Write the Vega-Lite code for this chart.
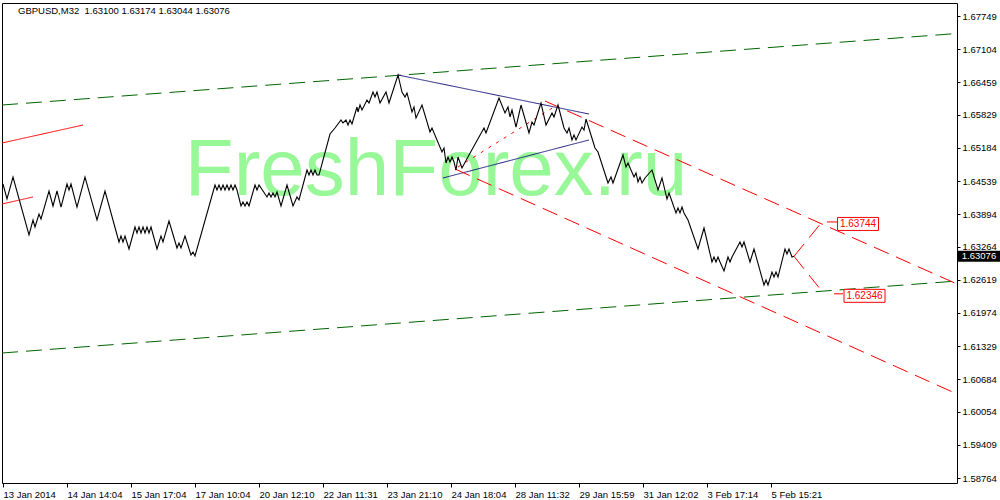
{
  "$schema": "https://vega.github.io/schema/vega-lite/v6.json",
  "autosize": "none",
  "width": 955,
  "height": 480,
  "padding": {"left": 2, "top": 3, "right": 43, "bottom": 17},
  "background": "white",
  "title": {"text": "GBPUSD,M32\u00a0 1.63100 1.63174 1.63044 1.63076", "anchor": "start", "frame": "group", "offset": -20, "dx": 16, "fontSize": 9.5, "font": "Liberation Sans", "fontWeight": "normal", "color": "black", "baseline": "alphabetic"},
  "config": {
    "view": {"stroke": "black", "strokeWidth": 1},
    "axis": {"grid": false, "domain": false, "labelFont": "Liberation Sans", "labelFontSize": 9.5, "labelColor": "black", "tickColor": "black", "title": null, "labelOverlap": false}
  },
  "datasets": {
    "watermark": [{"label": "FreshForex.ru", "bar": 436, "price": 1.64268}],
    "price": [
      {"bar":3,"price":1.64482},{"bar":7,"price":1.64190},{"bar":13,"price":1.64618},{"bar":29,"price":1.63490},{"bar":33,"price":1.63782},{"bar":35,"price":1.63646},{"bar":39,"price":1.63898},{"bar":41,"price":1.63801},{"bar":49,"price":1.64346},{"bar":53,"price":1.64054},{"bar":57,"price":1.64346},{"bar":61,"price":1.64034},{"bar":67,"price":1.64482},{"bar":69,"price":1.64365},{"bar":71,"price":1.64482},{"bar":77,"price":1.64034},{"bar":85,"price":1.64618},{"bar":97,"price":1.63782},{"bar":105,"price":1.64346},{"bar":119,"price":1.63354},{"bar":121,"price":1.63470},{"bar":123,"price":1.63354},{"bar":125,"price":1.63470},{"bar":129,"price":1.63218},{"bar":135,"price":1.63646},{"bar":137,"price":1.63529},{"bar":139,"price":1.63646},{"bar":141,"price":1.63529},{"bar":143,"price":1.63646},{"bar":145,"price":1.63529},{"bar":147,"price":1.63646},{"bar":149,"price":1.63529},{"bar":151,"price":1.63646},{"bar":157,"price":1.63218},{"bar":161,"price":1.63470},{"bar":163,"price":1.63354},{"bar":169,"price":1.63762},{"bar":177,"price":1.63237},{"bar":179,"price":1.63334},{"bar":181,"price":1.63237},{"bar":185,"price":1.63470},{"bar":191,"price":1.63101},{"bar":193,"price":1.63159},{"bar":195,"price":1.63082},
      {"bar":215,"price":1.64462},{"bar":217,"price":1.64365},{"bar":219,"price":1.64462},{"bar":221,"price":1.64365},{"bar":223,"price":1.64462},{"bar":225,"price":1.64365},{"bar":227,"price":1.64462},{"bar":229,"price":1.64365},{"bar":231,"price":1.64462},{"bar":233,"price":1.64365},{"bar":235,"price":1.64462},{"bar":237,"price":1.64365},{"bar":241,"price":1.64054},{"bar":243,"price":1.64132},{"bar":245,"price":1.64054},{"bar":247,"price":1.64132},{"bar":249,"price":1.64054},{"bar":255,"price":1.64462},{"bar":257,"price":1.64365},{"bar":259,"price":1.64462},{"bar":267,"price":1.64229},{"bar":269,"price":1.64307},{"bar":271,"price":1.64229},{"bar":273,"price":1.64307},{"bar":275,"price":1.64229},{"bar":277,"price":1.64326},{"bar":281,"price":1.64054},{"bar":287,"price":1.64462},{"bar":293,"price":1.64054},{"bar":297,"price":1.64229},{"bar":299,"price":1.64171},{"bar":307,"price":1.64754},{"bar":309,"price":1.64657},{"bar":311,"price":1.64754},{"bar":313,"price":1.64657},{"bar":315,"price":1.64754},{"bar":317,"price":1.64657},{"bar":319,"price":1.64657},
      {"bar":330,"price":1.65454},{"bar":335,"price":1.65571},{"bar":341,"price":1.65726},{"bar":343,"price":1.65668},{"bar":346,"price":1.65726},{"bar":348,"price":1.65629},{"bar":350,"price":1.65726},{"bar":352,"price":1.65649},{"bar":357,"price":1.65979},{"bar":358,"price":1.65882},{"bar":360,"price":1.66018},{"bar":362,"price":1.65921},{"bar":367,"price":1.66115},{"bar":369,"price":1.66057},{"bar":373,"price":1.66271},{"bar":375,"price":1.66174},{"bar":377,"price":1.66271},{"bar":380,"price":1.66057},{"bar":386,"price":1.66271},{"bar":389,"price":1.66057},{"bar":398,"price":1.66602},{"bar":402,"price":1.66271},{"bar":405,"price":1.66174},{"bar":407,"price":1.66252},{"bar":412,"price":1.65882},{"bar":414,"price":1.65979},{"bar":416,"price":1.65765},{"bar":422,"price":1.66018},{"bar":430,"price":1.65493},{"bar":432,"price":1.65571},{"bar":442,"price":1.65104},{"bar":444,"price":1.65182},{"bar":446,"price":1.64890},{"bar":448,"price":1.65007},{"bar":450,"price":1.64910},{"bar":452,"price":1.65007},{"bar":454,"price":1.64910},{"bar":456,"price":1.64754},{"bar":458,"price":1.65007},{"bar":462,"price":1.64793},{"bar":469,"price":1.65046},{"bar":484,"price":1.65571},{"bar":486,"price":1.65474},
      {"bar":499,"price":1.66154},{"bar":505,"price":1.65863},{"bar":508,"price":1.65979},{"bar":510,"price":1.65785},{"bar":512,"price":1.65921},{"bar":516,"price":1.65590},{"bar":521,"price":1.66018},{"bar":529,"price":1.65474},{"bar":532,"price":1.65688},{"bar":534,"price":1.65629},{"bar":541,"price":1.66057},{"bar":546,"price":1.65629},{"bar":552,"price":1.65863},{"bar":554,"price":1.65785},{"bar":558,"price":1.66018},{"bar":564,"price":1.65571},{"bar":567,"price":1.65474},{"bar":569,"price":1.65571},{"bar":572,"price":1.65338},{"bar":574,"price":1.65435},{"bar":576,"price":1.65338},{"bar":582,"price":1.65590},{"bar":584,"price":1.65532},{"bar":586,"price":1.65746},{"bar":595,"price":1.65182},{"bar":598,"price":1.65104},{"bar":608,"price":1.64501},{"bar":611,"price":1.64618},{"bar":613,"price":1.64501},{"bar":623,"price":1.65046},{"bar":626,"price":1.64812},{"bar":628,"price":1.64890},{"bar":634,"price":1.64618},{"bar":636,"price":1.64696},{"bar":638,"price":1.64521},{"bar":640,"price":1.64618},{"bar":642,"price":1.64501},{"bar":645,"price":1.64599},
      {"bar":652,"price":1.64754},{"bar":658,"price":1.64365},{"bar":662,"price":1.64599},{"bar":667,"price":1.64190},{"bar":669,"price":1.64307},{"bar":676,"price":1.63918},{"bar":678,"price":1.64015},{"bar":680,"price":1.63918},{"bar":682,"price":1.64034},{"bar":684,"price":1.63918},{"bar":688,"price":1.63782},{"bar":698,"price":1.63218},{"bar":704,"price":1.63626},{"bar":712,"price":1.62965},{"bar":714,"price":1.63062},{"bar":716,"price":1.62965},{"bar":718,"price":1.63062},{"bar":720,"price":1.62965},{"bar":724,"price":1.62790},{"bar":728,"price":1.63062},{"bar":730,"price":1.62965},{"bar":732,"price":1.63062},{"bar":740,"price":1.63354},{"bar":742,"price":1.63257},{"bar":744,"price":1.63354},{"bar":750,"price":1.62965},{"bar":754,"price":1.63218},{"bar":764,"price":1.62518},{"bar":766,"price":1.62615},{"bar":768,"price":1.62518},{"bar":772,"price":1.62770},{"bar":774,"price":1.62673},{"bar":776,"price":1.62770},{"bar":778,"price":1.62673},{"bar":785,"price":1.63218},{"bar":787,"price":1.63120},{"bar":789,"price":1.63218},{"bar":792,"price":1.63062},{"bar":794,"price":1.63076}
    ],
    "segments": [
      {"line":"g1","kind":"green_dash","bar":2,"price":1.66018},{"line":"g1","kind":"green_dash","bar":957,"price":1.67409},
      {"line":"g2","kind":"green_dash","bar":2,"price":1.61195},{"line":"g2","kind":"green_dash","bar":957,"price":1.62595},
      {"line":"r1","kind":"red_solid","bar":2,"price":1.65279},{"line":"r1","kind":"red_solid","bar":83,"price":1.65629},
      {"line":"r2","kind":"red_solid","bar":2,"price":1.64093},{"line":"r2","kind":"red_solid","bar":33,"price":1.64229},
      {"line":"n1","kind":"navy_solid","bar":398,"price":1.66602},{"line":"n1","kind":"navy_solid","bar":589,"price":1.65843},
      {"line":"n2","kind":"navy_solid","bar":443,"price":1.64599},{"line":"n2","kind":"navy_solid","bar":589,"price":1.65338},
      {"line":"d1","kind":"red_dash","bar":545,"price":1.66096},{"line":"d1","kind":"red_dash","bar":957,"price":1.62537},
      {"line":"d2","kind":"red_dash","bar":455,"price":1.64774},{"line":"d2","kind":"red_dash","bar":957,"price":1.60398},
      {"line":"o1","kind":"red_dot","bar":458,"price":1.64812},{"line":"o1","kind":"red_dot","bar":557,"price":1.66018},
      {"line":"p1","kind":"red_dash","bar":794,"price":1.63076},{"line":"p1","kind":"red_dash","bar":822,"price":1.63744},
      {"line":"p2","kind":"red_dash","bar":794,"price":1.63076},{"line":"p2","kind":"red_dash","bar":824,"price":1.62346},
      {"line":"c1","kind":"red_solid","bar":827,"price":1.63744},{"line":"c1","kind":"red_solid","bar":837,"price":1.63744},
      {"line":"c2","kind":"red_solid","bar":834,"price":1.62346},{"line":"c2","kind":"red_solid","bar":843,"price":1.62346}
    ],
    "labels": [
      {"bar":858,"price":1.63744,"text":"1.63744"},
      {"bar":864.5,"price":1.62346,"text":"1.62346"}
    ],
    "current": [
      {"bar":979,"price":1.63076,"text":"1.63076"}
    ]
  },
  "layer": [
    {
      "data": {"name": "watermark"},
      "mark": {"type": "text", "font": "Liberation Sans", "fontSize": 80, "fill": "#98f898", "align": "center", "baseline": "alphabetic"},
      "encoding": {
        "x": {"field": "bar", "type": "quantitative", "scale": {"domain": [2, 957], "nice": false, "zero": false}},
        "y": {"field": "price", "type": "quantitative", "scale": {"domain": [1.58667, 1.68002], "nice": false, "zero": false}},
        "text": {"field": "label"}
      }
    },
    {
      "mark": {"type": "rule", "color": "#c0c0c0", "strokeWidth": 1},
      "encoding": {
        "y": {"datum": 1.63076, "type": "quantitative", "scale": {"domain": [1.58667, 1.68002], "nice": false, "zero": false}}
      }
    },
    {
      "data": {"name": "segments"},
      "mark": {"type": "line", "strokeWidth": 1, "clip": true},
      "encoding": {
        "x": {"field": "bar", "type": "quantitative", "scale": {"domain": [2, 957], "nice": false, "zero": false},
              "axis": {"orient": "bottom", "values": [3,67,131,195,259,323,387,451,515,579,643,707,771], "tickCount": 30, "labelAlign": "left", "labelPadding": 2, "tickSize": 4,
                       "labelExpr": "['13 Jan 2014','14 Jan 14:04','15 Jan 17:04','17 Jan 10:04','20 Jan 12:10','22 Jan 11:31','23 Jan 21:10','24 Jan 18:04','28 Jan 11:32','29 Jan 15:59','31 Jan 12:02','3 Feb 17:14','5 Feb 15:21'][round((datum.value - 3) / 64)]"}},
        "y": {"field": "price", "type": "quantitative", "scale": {"domain": [1.58667, 1.68002], "nice": false, "zero": false},
              "axis": {"orient": "right", "values": [1.67749,1.67104,1.66459,1.65829,1.65184,1.64539,1.63894,1.63264,1.62619,1.61974,1.61329,1.60684,1.60054,1.59409,1.58764], "tickCount": 30, "format": ".5f", "tickSize": 3, "labelPadding": 2, "labelAlign": "left", "labelOverlap": false}},
        "detail": {"field": "line"},
        "color": {"field": "kind", "type": "nominal", "legend": null, "scale": {"domain": ["green_dash","red_solid","navy_solid","red_dash","red_dot"], "range": ["#006400","#ff0000","#1a1a80","#ff0000","#ff0000"]}},
        "strokeDash": {"field": "kind", "type": "nominal", "legend": null, "scale": {"domain": ["green_dash","red_solid","navy_solid","red_dash","red_dot"], "range": [[16,8],[1,0],[1,0],[16,8],[3,6]]}}
      }
    },
    {
      "data": {"name": "price"},
      "mark": {"type": "line", "color": "black", "strokeWidth": 1.1},
      "encoding": {
        "x": {"field": "bar", "type": "quantitative", "scale": {"domain": [2, 957], "nice": false, "zero": false}},
        "y": {"field": "price", "type": "quantitative", "scale": {"domain": [1.58667, 1.68002], "nice": false, "zero": false}}
      }
    },
    {
      "data": {"name": "labels"},
      "mark": {"type": "point", "shape": "M-1,-0.317H1V0.317H-1Z", "size": 1681, "filled": true, "fill": "white", "stroke": "#ff0000", "strokeWidth": 1, "opacity": 1, "yOffset": 2},
      "encoding": {
        "x": {"field": "bar", "type": "quantitative", "scale": {"domain": [2, 957], "nice": false, "zero": false}},
        "y": {"field": "price", "type": "quantitative", "scale": {"domain": [1.58667, 1.68002], "nice": false, "zero": false}}
      }
    },
    {
      "data": {"name": "labels"},
      "mark": {"type": "text", "font": "Liberation Sans", "fontSize": 10, "color": "#ff0000", "align": "center", "baseline": "middle", "yOffset": 2},
      "encoding": {
        "x": {"field": "bar", "type": "quantitative", "scale": {"domain": [2, 957], "nice": false, "zero": false}},
        "y": {"field": "price", "type": "quantitative", "scale": {"domain": [1.58667, 1.68002], "nice": false, "zero": false}},
        "text": {"field": "text"}
      }
    },
    {
      "data": {"name": "current"},
      "mark": {"type": "point", "shape": "M-1,-0.262H1V0.262H-1Z", "size": 1764, "filled": true, "fill": "black", "opacity": 1},
      "encoding": {
        "x": {"field": "bar", "type": "quantitative", "scale": {"domain": [2, 957], "nice": false, "zero": false}},
        "y": {"field": "price", "type": "quantitative", "scale": {"domain": [1.58667, 1.68002], "nice": false, "zero": false}}
      }
    },
    {
      "data": {"name": "current"},
      "mark": {"type": "text", "font": "Liberation Sans", "fontSize": 9.5, "color": "white", "align": "center", "baseline": "middle"},
      "encoding": {
        "x": {"field": "bar", "type": "quantitative", "scale": {"domain": [2, 957], "nice": false, "zero": false}},
        "y": {"field": "price", "type": "quantitative", "scale": {"domain": [1.58667, 1.68002], "nice": false, "zero": false}},
        "text": {"field": "text"}
      }
    },
    {
      "mark": {"type": "rule", "color": "black", "strokeWidth": 3},
      "encoding": {
        "x": {"datum": 957.5, "type": "quantitative", "scale": {"domain": [2, 957], "nice": false, "zero": false}},
        "y": {"datum": 1.67833, "type": "quantitative", "scale": {"domain": [1.58667, 1.68002], "nice": false, "zero": false}},
        "y2": {"datum": 1.63782}
      }
    }
  ]
}
